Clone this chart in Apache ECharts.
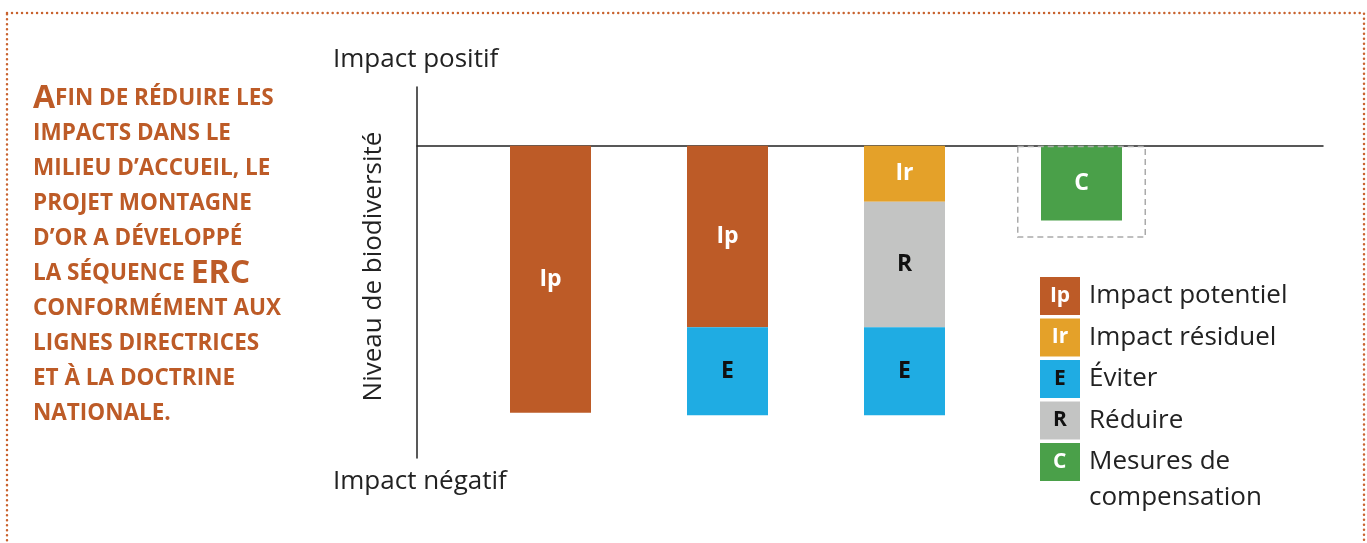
<!DOCTYPE html>
<html lang="fr">
<head>
<meta charset="UTF-8">
<title>Séquence ERC</title>
<script src="https://cdn.jsdelivr.net/npm/echarts@6/dist/echarts.min.js"></script>
<style>
  html, body { margin: 0; padding: 0; background: #fff; }
  #main { width: 1367px; height: 543px; }
</style>
</head>
<body>
<div id="main"></div>
<script>
// colonnes du schéma (pas d'étiquettes visibles)
var categories = ['1', '2', '3', '4'];
// niveaux de biodiversité (0 = ligne de référence)
var ipValues = [-100, -68, '-', '-'];
var irValues = ['-', '-', -21, '-'];
var rValues = ['-', '-', -47, '-'];
var eValues = ['-', -33, -33, '-'];
var cValues = ['-', '-', '-', -28];
var boxValues = ['-', '-', '-', -34.5];
var yMin = -117, yMax = 22;

var colors = {
  ip: '#BD5B27', ir: '#E4A129', e: '#1FACE3', r: '#C3C4C3', c: '#4AA049'
};
var orange = '#BD5B27';
var font = 'Open Sans';

function codeLabel(code, color) {
  return {
    show: true, position: 'inside', formatter: code,
    color: color, fontFamily: font, fontWeight: 'bold', fontSize: 23
  };
}

function legendBox(bg, color) {
  return {
    backgroundColor: bg, color: color, width: 40, height: 38, lineHeight: 38,
    align: 'center', fontFamily: font, fontWeight: 'bold', fontSize: 21
  };
}

var legendText = {
  'Impact potentiel': '{ip|Ip}{t|Impact potentiel}',
  'Impact résiduel': '{ir|Ir}{t|Impact résiduel}',
  'Éviter': '{e|E}{t|Éviter}',
  'Réduire': '{r|R}{t|Réduire}',
  'Mesures de compensation': '{c|C}{t|Mesures de}\n{sp| }{t2|compensation}'
};

// boîte "C" alignée à gauche pour que la 2e ligne ne recentre pas la 1re
var cBox = legendBox(colors.c, '#fff');
cBox.align = 'left';
cBox.width = 27;
cBox.padding = [0, 0, 0, 13];

var chart = echarts.init(document.getElementById('main'));

var option = {
  animation: false,
  title: {
    left: 33, top: 81, padding: 0,
    text: '{big|A}{sc|FIN DE RÉDUIRE LES}\n{sc|IMPACTS DANS LE}\n{sc|MILIEU D’ACCUEIL, LE}\n' +
      '{sc|PROJET MONTAGNE}\n{sc|D’OR A DÉVELOPPÉ}\n{sc|LA SÉQUENCE }{big|ERC}\n' +
      '{sc|CONFORMÉMENT AUX}\n{sc|LIGNES DIRECTRICES}\n{sc|ET À LA DOCTRINE}\n{sc|NATIONALE.}',
    textStyle: {
      rich: {
        sc: { fontFamily: font, fontWeight: 'bold', fontSize: 22.5, color: orange, lineHeight: 35 },
        big: { fontFamily: font, fontWeight: 'bold', fontSize: 32, color: orange, lineHeight: 35 }
      }
    }
  },
  legend: {
    orient: 'vertical', left: 1030, top: 272, itemGap: 3.5,
    icon: 'none', itemWidth: 0, itemHeight: 38, selectedMode: false,
    data: ['Impact potentiel', 'Impact résiduel', 'Éviter', 'Réduire', 'Mesures de compensation'],
    formatter: function (name) { return legendText[name]; },
    textStyle: {
      rich: {
        ip: legendBox(colors.ip, '#fff'),
        ir: legendBox(colors.ir, '#fff'),
        e: legendBox(colors.e, '#111'),
        r: legendBox(colors.r, '#111'),
        c: cBox,
        sp: { width: 40, height: 34, lineHeight: 34 },
        t: { fontFamily: font, fontSize: 26, color: '#222', lineHeight: 38, padding: [0, 0, 0, 9] },
        t2: { fontFamily: font, fontSize: 26, color: '#222', lineHeight: 34, padding: [0, 0, 0, 9] }
      }
    }
  },
  grid: [
    { left: 462, width: 708, top: 87, bottom: 85 },
    { left: 417, right: 44, top: 87, bottom: 85 }
  ],
  xAxis: [
    { type: 'category', data: categories, gridIndex: 0, show: false },
    { type: 'category', data: categories, gridIndex: 0, show: false },
    {
      type: 'value', gridIndex: 1, min: 0, max: 1,
      axisLine: { show: true, onZero: true, lineStyle: { color: '#222', width: 1.5 } },
      axisTick: { show: false }, axisLabel: { show: false }, splitLine: { show: false }
    }
  ],
  yAxis: [
    { type: 'value', gridIndex: 0, min: yMin, max: yMax, show: false },
    {
      type: 'value', gridIndex: 1, min: yMin, max: yMax,
      name: 'Niveau de biodiversité', nameLocation: 'middle', nameRotate: 90, nameGap: 30,
      nameTextStyle: { fontFamily: font, fontSize: 26, color: '#222', padding: [0, 0, 0, 12] },
      axisLine: { show: true, lineStyle: { color: '#222', width: 1.5 } },
      axisTick: { show: false }, axisLabel: { show: false }, splitLine: { show: false }
    }
  ],
  graphic: [
    {
      type: 'rect', silent: true, z: -1,
      shape: { x: 7, y: 13, width: 1357, height: 600 },
      style: { fill: 'none', stroke: '#C8622E', lineWidth: 2.5, lineDash: [0.01, 5], lineCap: 'round' }
    },
    {
      type: 'text', left: 333, top: 47,
      style: { text: 'Impact positif', font: '26px "Open Sans"', fill: '#222' }
    },
    {
      type: 'text', left: 333, top: 469,
      style: { text: 'Impact négatif', font: '26px "Open Sans"', fill: '#222' }
    }
  ],
  series: [
    {
      name: 'Impact potentiel', type: 'bar', stack: 'erc', barWidth: 81,
      data: ipValues, itemStyle: { color: colors.ip }, label: codeLabel('Ip', '#fff')
    },
    {
      name: 'Impact résiduel', type: 'bar', stack: 'erc', barWidth: 81,
      data: irValues, itemStyle: { color: colors.ir }, label: codeLabel('Ir', '#fff')
    },
    {
      name: 'Réduire', type: 'bar', stack: 'erc', barWidth: 81,
      data: rValues, itemStyle: { color: colors.r }, label: codeLabel('R', '#111')
    },
    {
      name: 'Éviter', type: 'bar', stack: 'erc', barWidth: 81,
      data: eValues, itemStyle: { color: colors.e }, label: codeLabel('E', '#111')
    },
    {
      name: 'Mesures de compensation', type: 'bar', stack: 'erc', barWidth: 81,
      data: cValues, itemStyle: { color: colors.c }, label: codeLabel('C', '#fff')
    },
    {
      name: 'cadre', type: 'bar', xAxisIndex: 1, barWidth: 129, silent: true,
      data: boxValues,
      itemStyle: { color: 'transparent', borderColor: '#AAAAAA', borderWidth: 1.5, borderType: [6, 4] }
    }
  ]
};

option && chart.setOption(option);
</script>
</body>
</html>
